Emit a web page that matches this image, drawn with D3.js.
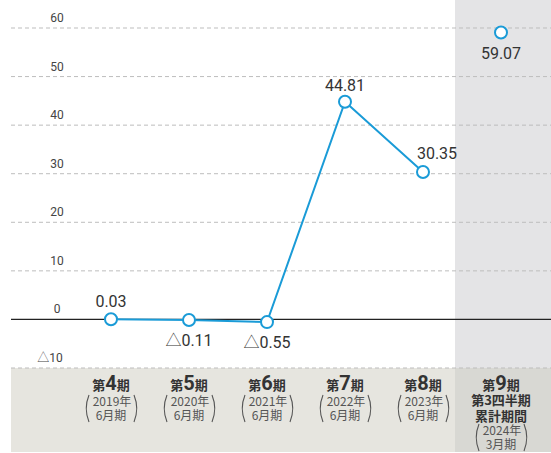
<!DOCTYPE html>
<html><head><meta charset="utf-8">
<script src="https://cdn.jsdelivr.net/npm/d3@7"></script>
<style>body{margin:0;background:#fff}svg{display:block}</style>
</head><body>
<script>
const categories = ["第4期","第5期","第6期","第7期","第8期","第9期"];
const periodNums = ["4","5","6","7","8","9"];
const yearLabels = ["2019年","2020年","2021年","2022年","2023年","2024年"];
const monthLabels = ["6月期","6月期","6月期","6月期","6月期","3月期"];
const values = [0.03, -0.11, -0.55, 44.81, 30.35, 59.07];
const valueLabels = ["0.03","△0.11","△0.55","44.81","30.35","59.07"];
const yTicks = [-10,0,10,20,30,40,50,60];
const yTickLabels = ["△10","0","10","20","30","40","50","60"];

const W=551,H=453;
const svg=d3.select("body").append("svg").attr("width",W).attr("height",H);
const x=d3.scalePoint().domain(categories).range([111,501]);
const y=d3.scaleLinear().domain([-10,60]).range([368,28]);
const jp="'Noto Sans CJK JP','Noto Sans',sans-serif";
const num="Roboto,'Noto Sans',sans-serif";

function numText(sel,str){
  const parts=str.split(/(△)/).filter(s=>s.length);
  parts.forEach(p=>{
    const ts=sel.append("tspan").text(p);
    if(p==="△") ts.attr("font-family",jp).attr("font-weight",300);
  });
}

// backgrounds
svg.append("rect").attr("x",455).attr("y",0).attr("width",W-455).attr("height",368).attr("fill","#e4e4e6");
svg.append("rect").attr("x",11).attr("y",368).attr("width",W-11).attr("height",84).attr("fill","#e6e5df");
svg.append("rect").attr("x",455).attr("y",368).attr("width",W-455).attr("height",84).attr("fill","#d8d8d3");

// grid
const g=svg.append("g");
yTicks.forEach((t,i)=>{
  if(t!==0){
    g.append("line").attr("x1",11).attr("x2",W).attr("y1",y(t)).attr("y2",y(t))
      .attr("stroke","#bdbdbd").attr("stroke-width",1).attr("stroke-dasharray","4,3");
  }
  const tx=g.append("text").attr("x",t<0?50:57).attr("y",y(t)-6).attr("text-anchor","middle")
    .attr("font-family",num).attr("font-size",12).attr("fill","#444");
  numText(tx,yTickLabels[i]);
});
g.append("line").attr("x1",11).attr("x2",W).attr("y1",y(0)).attr("y2",y(0))
  .attr("stroke","#222").attr("stroke-width",1.3);

// line
const lineData=categories.slice(0,5).map((c,i)=>({c,v:values[i]}));
svg.append("path").datum(lineData)
  .attr("d",d3.line().x(d=>x(d.c)).y(d=>y(d.v)))
  .attr("fill","none").attr("stroke","#1a9bd7").attr("stroke-width",2);

// points
svg.selectAll("circle.pt").data(categories).enter().append("circle")
  .attr("cx",d=>x(d)).attr("cy",(d,i)=>y(values[i])).attr("r",6)
  .attr("fill","#fff").attr("stroke","#1a9bd7").attr("stroke-width",2);

// value labels
const labelPos=[[0,-12],[0,26],[0,26],[0,-11],[14,-13],[0,26]];
categories.forEach((c,i)=>{
  const t=svg.append("text").attr("x",x(c)+labelPos[i][0]).attr("y",y(values[i])+labelPos[i][1])
    .attr("text-anchor","middle").attr("font-family",num).attr("font-size",16)
    .attr("fill","#333");
  numText(t,valueLabels[i]);
});

// category labels
categories.forEach((c,i)=>{
  const cx=x(c);
  const t=svg.append("text").attr("x",cx).attr("y",390).attr("text-anchor","middle")
    .attr("font-family",jp).attr("font-weight","bold").attr("fill","#333");
  t.append("tspan").attr("font-size",13).text("第");
  t.append("tspan").attr("font-size",20).attr("font-family",num).text(periodNums[i]);
  t.append("tspan").attr("font-size",13).text("期");
  let yb=406;
  if(i===5){
    svg.append("text").attr("x",cx).attr("y",405).attr("text-anchor","middle")
      .attr("font-family",jp).attr("font-weight","bold").attr("font-size",13).attr("fill","#333").text("第3四半期");
    svg.append("text").attr("x",cx).attr("y",421).attr("text-anchor","middle")
      .attr("font-family",jp).attr("font-weight","bold").attr("font-size",13).attr("fill","#333").text("累計期間");
    yb=435;
  }
  svg.append("text").attr("x",cx+1).attr("y",yb).attr("text-anchor","middle")
    .attr("font-family",jp).attr("font-size",12).attr("fill","#555").text(yearLabels[i]);
  svg.append("text").attr("x",cx).attr("y",yb+13.5).attr("text-anchor","middle")
    .attr("font-family",jp).attr("font-size",12).attr("fill","#555").text(monthLabels[i]);
  // parentheses
  const top=yb-11, bot=yb+16;
  const pl=cx-25, pr=cx+26;
  svg.append("path").attr("d",`M${pl+3},${top} Q${pl-2.5},${(top+bot)/2} ${pl+3},${bot}`)
    .attr("fill","none").attr("stroke","#555").attr("stroke-width",1.1);
  svg.append("path").attr("d",`M${pr-3},${top} Q${pr+2.5},${(top+bot)/2} ${pr-3},${bot}`)
    .attr("fill","none").attr("stroke","#555").attr("stroke-width",1.1);
});
</script>
</body></html>
